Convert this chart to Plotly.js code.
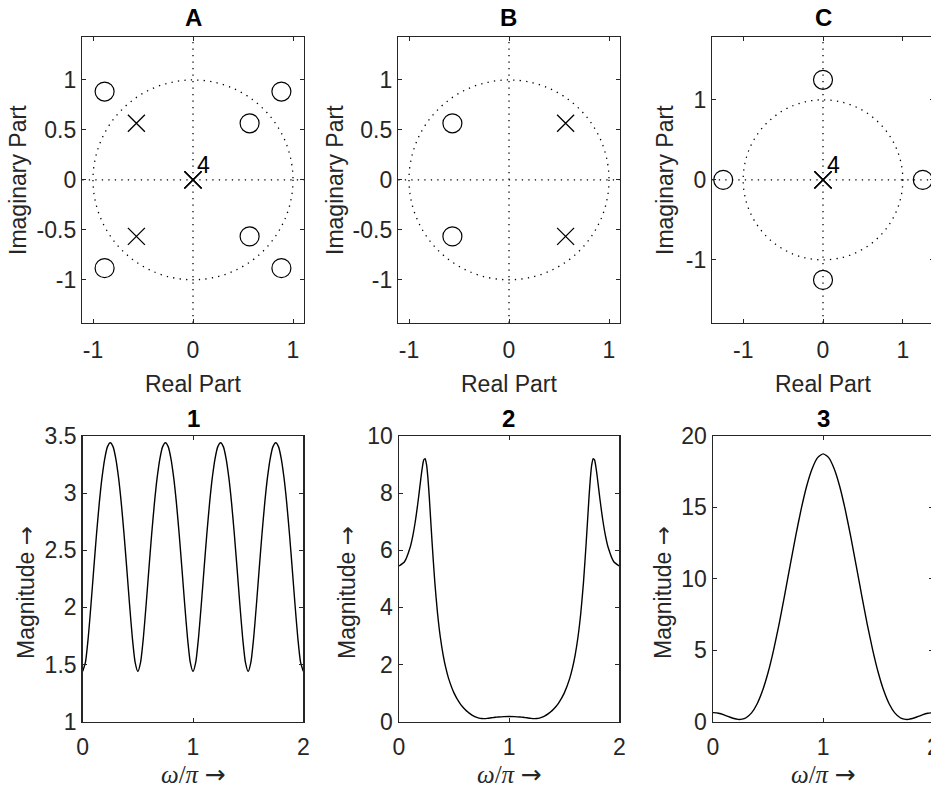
<!DOCTYPE html>
<html>
<head>
<meta charset="utf-8">
<script src="https://cdn.plot.ly/plotly-3.0.1.min.js"></script>
<style>
html,body{margin:0;padding:0;overflow:hidden;background:#fff;}
#plot{width:960px;height:789px;}
</style>
</head>
<body>
<div id="plot"></div>
<script>
// ---------------- data ----------------
// Pole-zero plot A
const zerosA_re = [-0.884, 0.884, 0.566, 0.566, -0.884, 0.884];
const zerosA_im = [0.884, 0.884, 0.566, -0.566, -0.884, -0.884];
const polesA_re = [-0.566, -0.566, 0, 0, 0, 0];
const polesA_im = [0.566, -0.566, 0, 0, 0, 0];
// Pole-zero plot B
const zerosB_re = [-0.566, -0.566];
const zerosB_im = [0.566, -0.566];
const polesB_re = [0.566, 0.566];
const polesB_im = [0.566, -0.566];
// Pole-zero plot C
const zerosC_re = [1.25, -1.25, 0, 0];
const zerosC_im = [0, 0, 1.25, -1.25];
const polesC_re = [0, 0, 0, 0];
const polesC_im = [0, 0, 0, 0];
const multLabel = "4";

// Magnitude response 1
const w1 = [0,0.025,0.05,0.075,0.1,0.125,0.15,0.175,0.2,0.225,0.25,0.275,0.3,0.325,0.35,0.375,0.4,0.425,0.45,0.475,
  0.5,0.525,0.55,0.575,0.6,0.625,0.65,0.675,0.7,0.725,0.75,0.775,0.8,0.825,0.85,0.875,0.9,0.925,0.95,0.975,
  1,1.025,1.05,1.075,1.1,1.125,1.15,1.175,1.2,1.225,1.25,1.275,1.3,1.325,1.35,1.375,1.4,1.425,1.45,1.475,
  1.5,1.525,1.55,1.575,1.6,1.625,1.65,1.675,1.7,1.725,1.75,1.775,1.8,1.825,1.85,1.875,1.9,1.925,1.95,1.975,2];
const mag1 = [1.441,1.522,1.735,2.023,2.335,2.638,2.910,3.135,3.303,3.407,3.441,3.407,3.303,3.135,2.910,2.638,2.335,2.023,1.735,1.522,
  1.441,1.522,1.735,2.023,2.335,2.638,2.910,3.135,3.303,3.407,3.441,3.407,3.303,3.135,2.910,2.638,2.335,2.023,1.735,1.522,
  1.441,1.522,1.735,2.023,2.335,2.638,2.910,3.135,3.303,3.407,3.441,3.407,3.303,3.135,2.910,2.638,2.335,2.023,1.735,1.522,
  1.441,1.522,1.735,2.023,2.335,2.638,2.910,3.135,3.303,3.407,3.441,3.407,3.303,3.135,2.910,2.638,2.335,2.023,1.735,1.522,1.441];

// Magnitude response 2
const w2 = [0,0.05,0.1,0.125,0.15,0.175,0.2,0.2125,0.225,0.2375,0.25,0.2625,0.275,0.3,0.325,0.35,0.375,0.4,0.425,0.45,
  0.5,0.55,0.575,0.6,0.625,0.65,0.675,0.7,0.725,0.75,0.775,0.8,0.85,0.875,0.9,0.95,
  1,1.05,1.1,1.125,1.15,1.2,1.225,1.25,1.275,1.3,1.325,1.35,1.375,1.4,1.425,1.45,
  1.5,1.55,1.575,1.6,1.625,1.65,1.675,1.7,1.725,1.7375,1.75,1.7625,1.775,1.7875,1.8,1.825,1.85,1.875,1.9,1.95,2];
const mag2 = [5.449,5.597,6.086,6.499,7.060,7.768,8.565,8.920,9.162,9.209,9.000,8.530,7.859,6.298,4.886,3.789,2.965,2.350,1.881,1.517,
  1.000,0.659,0.532,0.426,0.337,0.264,0.205,0.159,0.127,0.111,0.109,0.117,0.142,0.154,0.164,0.179,
  0.184,0.179,0.164,0.154,0.142,0.117,0.109,0.111,0.127,0.159,0.205,0.264,0.337,0.426,0.532,0.659,
  1.000,1.517,1.881,2.350,2.965,3.789,4.886,6.298,7.859,8.530,9.000,9.209,9.162,8.920,8.565,7.768,7.060,6.499,6.086,5.597,5.449];

// Magnitude response 3
const w3 = [0,0.05,0.1,0.15,0.2,0.225,0.25,0.275,0.3,0.35,0.4,0.45,0.5,0.55,0.6,0.65,0.7,0.75,0.8,0.85,0.9,0.95,
  1,1.05,1.1,1.15,1.2,1.25,1.3,1.35,1.4,1.45,1.5,1.55,1.6,1.65,1.7,1.725,1.75,1.775,1.8,1.85,1.9,1.95,2];
const mag3 = [0.632,0.590,0.478,0.331,0.203,0.166,0.160,0.194,0.276,0.616,1.239,2.177,3.441,5.011,6.837,8.847,10.927,12.973,14.861,16.484,17.709,18.486,
  18.752,18.486,17.709,16.484,14.861,12.973,10.927,8.847,6.837,5.011,3.441,2.177,1.239,0.616,0.276,0.194,0.160,0.166,0.203,0.331,0.478,0.590,0.632];

// ticks
const pzTicksAB = [-1, -0.5, 0, 0.5, 1];
const pzTickTextAB = ["-1", "-0.5", "0", "0.5", "1"];
const pzTicksX = [-1, 0, 1];
const pzTickTextX = ["-1", "0", "1"];
const wTicks = [0, 1, 2];
const wTickText = ["0", "1", "2"];
const mag1Ticks = [1, 1.5, 2, 2.5, 3, 3.5];
const mag1TickText = ["1", "1.5", "2", "2.5", "3", "3.5"];
const mag2Ticks = [0, 2, 4, 6, 8, 10];
const mag3Ticks = [0, 5, 10, 15, 20];

const panelTitles = ["A", "B", "C", "1", "2", "3"];
const pzXLabel = "Real Part";
const pzYLabel = "Imaginary Part";
const ARROW = '<span style="font-family:DejaVu Sans">→</span>';
const magXLabel = "<i>ω</i>/<i>π</i>\u00a0" + ARROW;
const magYLabel = "Magnitude " + ARROW;

// ---------------- layout helpers ----------------
const W = 960, H = 789;
const fx = p => p / W;
const fy = p => 1 - p / H;
const axisColor = '#262626';
const SANS = 'Liberation Sans, Arial, sans-serif';
const tickFont = {family: SANS, size: 23, color: axisColor};

function ax(domain, range, tickvals, ticktext, anchor, standoff) {
  return {
    domain: domain, range: range, tickvals: tickvals, ticktext: ticktext,
    anchor: anchor, showgrid: false, zeroline: false, showline: true,
    linecolor: axisColor, linewidth: 1.5, mirror: 'ticks', ticks: 'inside',
    ticklen: 4, tickwidth: 1, tickcolor: axisColor, tickfont: tickFont,
    ticklabelstandoff: standoff, fixedrange: true
  };
}

const zeroMarker = {symbol: 'circle-open', size: 19, color: '#000', line: {color: '#000', width: 1.2}};
const poleMarker = {symbol: 'x-thin-open', size: 17, color: '#000', line: {color: '#000', width: 1.3}};
const curveLine = {color: '#000', width: 1.4, shape: 'spline', smoothing: 0.6};

const traces = [
  {x: zerosA_re, y: zerosA_im, xaxis: 'x', yaxis: 'y', mode: 'markers', marker: zeroMarker},
  {x: polesA_re, y: polesA_im, xaxis: 'x', yaxis: 'y', mode: 'markers', marker: poleMarker},
  {x: zerosB_re, y: zerosB_im, xaxis: 'x2', yaxis: 'y2', mode: 'markers', marker: zeroMarker},
  {x: polesB_re, y: polesB_im, xaxis: 'x2', yaxis: 'y2', mode: 'markers', marker: poleMarker},
  {x: zerosC_re, y: zerosC_im, xaxis: 'x3', yaxis: 'y3', mode: 'markers', marker: zeroMarker},
  {x: polesC_re, y: polesC_im, xaxis: 'x3', yaxis: 'y3', mode: 'markers', marker: poleMarker},
  {x: w1, y: mag1, xaxis: 'x4', yaxis: 'y4', mode: 'lines', line: curveLine},
  {x: w2, y: mag2, xaxis: 'x5', yaxis: 'y5', mode: 'lines', line: curveLine},
  {x: w3, y: mag3, xaxis: 'x6', yaxis: 'y6', mode: 'lines', line: curveLine}
];

const topY = [fy(322.7), fy(37)];
const botY = [fy(721.7), fy(436)];

const layout = {
  width: W, height: H, margin: {l: 0, r: 0, t: 0, b: 0},
  paper_bgcolor: '#fff', plot_bgcolor: '#fff', showlegend: false,
  font: {family: SANS, color: axisColor},
  xaxis:  ax([fx(82.3), fx(303.7)], [-1.107, 1.107], pzTicksX, pzTickTextX, 'y', 6),
  yaxis:  ax(topY, [-1.43, 1.43], pzTicksAB, pzTickTextAB, 'x', 0),
  xaxis2: ax([fx(398.3), fx(619.7)], [-1.107, 1.107], pzTicksX, pzTickTextX, 'y2', 6),
  yaxis2: ax(topY, [-1.43, 1.43], pzTicksAB, pzTickTextAB, 'x2', 0),
  xaxis3: ax([fx(712.3), fx(933.7)], [-1.387, 1.387], pzTicksX, pzTickTextX, 'y3', 6),
  yaxis3: ax(topY, [-1.785, 1.785], pzTicksX, pzTickTextX, 'x3', 0),
  xaxis4: ax([fx(82.7), fx(303.3)], [0, 2], wTicks, wTickText, 'y4', 4),
  yaxis4: ax(botY, [1, 3.5], mag1Ticks, mag1TickText, 'x4', 0),
  xaxis5: ax([fx(399), fx(619.3)], [0, 2], wTicks, wTickText, 'y5', 4),
  yaxis5: ax(botY, [0, 10], mag2Ticks, mag2Ticks.map(String), 'x5', 0),
  xaxis6: ax([fx(713), fx(933.3)], [0, 2], wTicks, wTickText, 'y6', 4),
  yaxis6: ax(botY, [0, 20], mag3Ticks, mag3Ticks.map(String), 'x6', 0),
  shapes: [],
  annotations: []
};

// unit circles and dotted axes in pole-zero plots
const dotLine = {color: '#000', width: 1.3, dash: '1.3px,5.2px'};
[['x', 'y'], ['x2', 'y2'], ['x3', 'y3']].forEach(([xa, ya]) => {
  layout.shapes.push({type: 'circle', xref: xa, yref: ya, x0: -1, x1: 1, y0: -1, y1: 1, line: dotLine, layer: 'below'});
  layout.shapes.push({type: 'line', xref: xa + ' domain', yref: ya, x0: 0, x1: 1, y0: 0, y1: 0, line: dotLine, layer: 'below'});
  layout.shapes.push({type: 'line', xref: xa, yref: ya + ' domain', x0: 0, x1: 0, y0: 0, y1: 1, line: dotLine, layer: 'below'});
});

// multiplicity labels
[['x', 'y'], ['x3', 'y3']].forEach(([xa, ya]) => {
  layout.annotations.push({xref: xa, yref: ya, x: polesA_re[2], y: polesA_im[2], text: multLabel, showarrow: false,
    xshift: 10, yshift: 15, font: {family: SANS, size: 23, color: '#000'}});
});

// panel titles
const titleCenters = [[193, 17], [509, 17], [823, 17], [193, 418], [509, 418], [823, 418]];
panelTitles.forEach((t, i) => {
  layout.annotations.push({xref: 'paper', yref: 'paper', x: fx(titleCenters[i][0]), y: fy(titleCenters[i][1]),
    xanchor: 'center', yanchor: 'middle', text: '<b>' + t + '</b>', showarrow: false,
    font: {family: SANS, size: 24, color: '#000'}});
});

// axis labels
const labFont = {family: SANS, size: 23, color: axisColor};
const serifFont = {family: 'Liberation Serif, DejaVu Serif, serif', size: 25, color: axisColor};
[193, 509, 823].forEach(cx => {
  layout.annotations.push({xref: 'paper', yref: 'paper', x: fx(cx), y: fy(384), xanchor: 'center', yanchor: 'middle',
    text: pzXLabel, showarrow: false, font: labFont});
  layout.annotations.push({xref: 'paper', yref: 'paper', x: fx(cx), y: fy(774), xanchor: 'center', yanchor: 'middle',
    text: magXLabel, showarrow: false, font: serifFont});
});
[18, 335, 665].forEach(cx => {
  layout.annotations.push({xref: 'paper', yref: 'paper', x: fx(cx), y: fy(180), xanchor: 'center', yanchor: 'middle',
    text: pzYLabel, textangle: -90, showarrow: false, font: labFont});
});
[26, 347, 663].forEach(cx => {
  layout.annotations.push({xref: 'paper', yref: 'paper', x: fx(cx), y: fy(593), xanchor: 'center', yanchor: 'middle',
    text: magYLabel, textangle: -90, showarrow: false, font: labFont});
});

Plotly.newPlot('plot', traces, layout, {staticPlot: true, displayModeBar: false});
</script>
</body>
</html>
